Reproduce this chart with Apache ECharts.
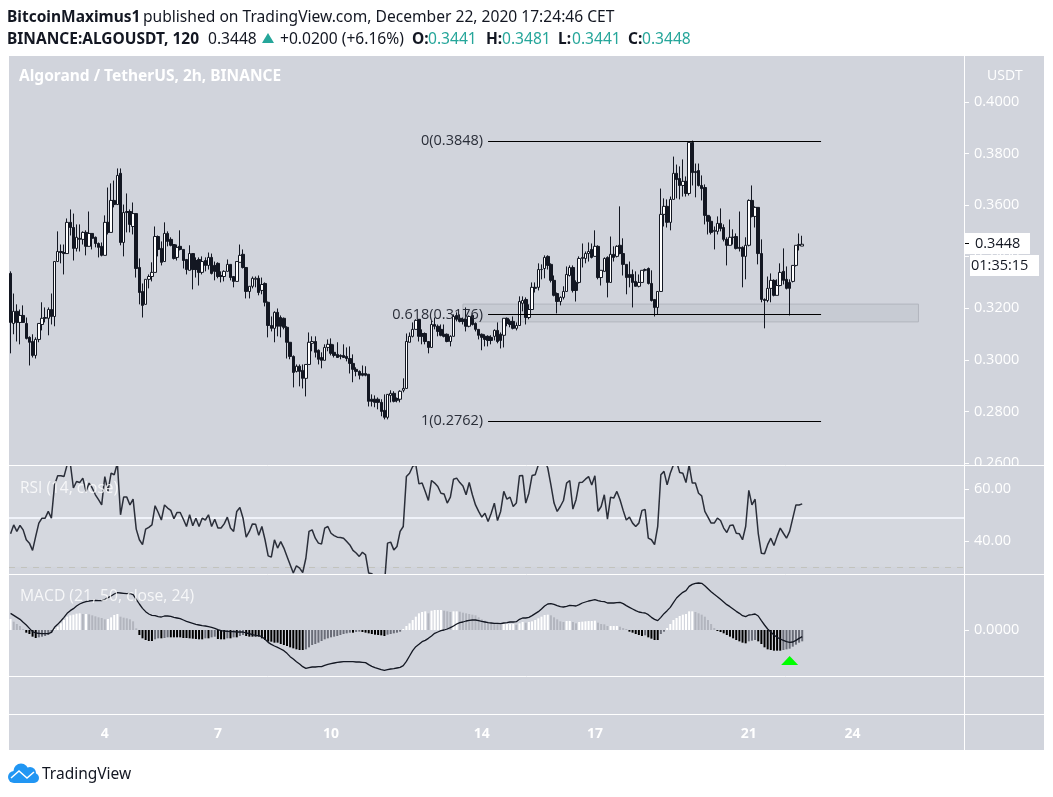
<!DOCTYPE html>
<html>
<head>
<meta charset="utf-8">
<title>ALGOUSDT</title>
<script src="https://cdn.jsdelivr.net/npm/echarts@6/dist/echarts.min.js"></script>
<style>
  html, body { margin: 0; background: #fff; }
  #chart { width: 1053px; height: 797px; }
</style>
</head>
<body>
<div id="chart"></div>
<script>
// prices and MACD values are written in units of 0.0001
const opens = [
  3335,3141,3188,3145,3172,3141,3087,3071,3017,3079,3137,3164,3161,3195,3168,3381,3420,3416,3412,3533,
  3513,3432,3471,3467,3494,3440,3490,3475,3451,3440,3405,3533,3494,3618,3602,3723,3455,3571,3575,3517,
  3567,3358,3265,3215,3312,3323,3339,3478,3432,3381,3490,3467,3447,3397,3440,3428,3389,3347,3412,3385,
  3389,3339,3385,3366,3397,3366,3374,3327,3323,3343,3370,3323,3304,3378,3409,3358,3265,3285,3312,3316,
  3269,3296,3223,3133,3122,3184,3164,3161,3126,3068,3013,2955,2975,2959,2928,2982,3064,3071,3037,3009,
  2998,3048,3060,3029,3021,3017,3017,3013,3005,2986,2963,2955,2947,2947,2944,2847,2847,2847,2835,2804,
  2777,2862,2870,2850,2847,2882,2889,3068,3091,3118,3157,3102,3102,3071,3048,3137,3130,3118,3099,3099,
  3071,3091,3172,3161,3157,3157,3130,3172,3141,3118,3099,3091,3091,3087,3091,3114,3099,3095,3161,3149,
  3149,3122,3133,3219,3234,3164,3195,3281,3281,3350,3354,3401,3370,3308,3257,3226,3242,3265,3327,3358,
  3300,3300,3393,3393,3412,3428,3401,3440,3319,3343,3397,3300,3409,3401,3444,3412,3370,3331,3331,3304,
  3285,3300,3347,3354,3296,3234,3203,3265,3564,3595,3533,3622,3723,3703,3676,3692,3645,3843,3730,3734,
  3676,3668,3560,3537,3498,3498,3529,3513,3467,3444,3475,3478,3436,3436,3401,3444,3618,3556,3591,3412,
  3234,3230,3277,3308,3250,3288,3343,3312,3300,3304,3366,3444,3441
];
const closes = [
  3145,3188,3145,3172,3145,3083,3068,3017,3079,3141,3161,3161,3195,3168,3381,3420,3416,3412,3533,3513,
  3432,3475,3467,3494,3440,3490,3471,3451,3436,3405,3533,3494,3618,3602,3715,3455,3571,3575,3525,3567,
  3354,3261,3211,3312,3323,3339,3478,3428,3378,3490,3459,3444,3393,3436,3428,3385,3350,3412,3350,3350,
  3339,3381,3366,3397,3335,3343,3323,3323,3343,3370,3319,3304,3381,3405,3358,3265,3285,3316,3316,3261,
  3292,3223,3133,3122,3184,3130,3130,3126,3068,3013,2951,2975,2955,2928,2982,3068,3071,3029,3002,2998,
  3048,3060,3025,3017,3009,3013,3009,3005,2986,2963,2955,2940,2940,2940,2839,2839,2835,2835,2800,2777,
  2866,2870,2839,2843,2878,2889,3071,3091,3118,3153,3091,3091,3071,3048,3137,3130,3110,3095,3091,3071,
  3091,3168,3157,3149,3149,3130,3168,3137,3118,3095,3087,3079,3075,3075,3114,3071,3075,3161,3141,3137,
  3122,3133,3226,3230,3164,3195,3281,3277,3350,3350,3397,3366,3308,3250,3226,3242,3265,3331,3358,3269,
  3269,3393,3397,3412,3420,3397,3440,3319,3347,3393,3300,3409,3397,3440,3412,3370,3319,3319,3300,3285,
  3300,3347,3350,3296,3230,3203,3265,3564,3595,3533,3622,3723,3699,3676,3692,3645,3843,3726,3726,3676,
  3664,3560,3537,3494,3502,3529,3509,3467,3444,3475,3475,3432,3432,3401,3444,3618,3556,3591,3412,3234,
  3230,3277,3308,3250,3288,3339,3308,3277,3277,3366,3444,3447,3448
];
const highs = [
  3343,3257,3215,3195,3211,3164,3091,3099,3087,3141,3223,3203,3203,3257,3381,3498,3447,3447,3548,3583,
  3567,3525,3525,3498,3502,3575,3490,3478,3455,3455,3560,3668,3684,3695,3742,3742,3602,3645,3583,3610,
  3567,3393,3296,3312,3331,3378,3517,3482,3459,3533,3498,3475,3447,3447,3502,3428,3389,3444,3412,3397,
  3397,3401,3397,3416,3412,3381,3378,3343,3347,3389,3370,3323,3381,3447,3428,3358,3285,3323,3323,3327,
  3319,3300,3226,3168,3188,3199,3172,3164,3130,3068,3017,2982,2982,2982,2982,3106,3091,3091,3040,3029,
  3060,3079,3083,3060,3068,3021,3060,3048,3052,3021,2971,2959,2978,2975,2944,2866,2862,2854,2847,2866,
  2866,2882,2878,2854,2882,2928,3102,3106,3145,3157,3157,3118,3106,3071,3153,3164,3137,3137,3137,3102,
  3095,3176,3184,3176,3164,3203,3172,3176,3145,3118,3102,3099,3095,3095,3118,3145,3106,3161,3164,3157,
  3168,3145,3246,3246,3242,3215,3300,3300,3374,3370,3405,3405,3374,3327,3261,3246,3285,3362,3366,3366,
  3308,3401,3451,3420,3455,3451,3502,3444,3347,3397,3401,3478,3440,3444,3595,3471,3370,3381,3350,3343,
  3331,3347,3354,3358,3347,3234,3265,3664,3626,3622,3633,3788,3757,3750,3777,3711,3843,3850,3761,3761,
  3715,3680,3560,3556,3517,3556,3587,3525,3475,3544,3506,3490,3575,3440,3475,3622,3676,3595,3591,3467,
  3238,3323,3335,3312,3312,3374,3432,3362,3312,3366,3444,3490,3481
];
const lows = [
  3025,3099,3071,3060,3145,3079,2978,3009,3005,3068,3114,3145,3095,3137,3130,3381,3374,3331,3412,3482,
  3385,3420,3420,3447,3405,3440,3428,3436,3397,3401,3405,3486,3494,3591,3602,3444,3401,3494,3494,3486,
  3319,3215,3164,3215,3277,3304,3339,3401,3366,3381,3440,3440,3389,3385,3424,3354,3331,3347,3273,3319,
  3288,3331,3343,3350,3331,3308,3316,3300,3304,3343,3308,3281,3304,3378,3354,3238,3238,3277,3281,3250,
  3254,3207,3087,3110,3068,3091,3087,3118,3005,3002,2893,2951,2897,2889,2858,2982,3033,3009,2982,2967,
  2998,3033,3017,3009,3009,3002,3009,2994,2947,2913,2936,2924,2936,2936,2819,2819,2816,2808,2781,2769,
  2769,2835,2835,2835,2835,2874,2889,3068,3087,3118,3071,3060,3060,3025,3048,3118,3091,3091,3087,3068,
  3052,3091,3149,3145,3137,3110,3126,3133,3110,3079,3037,3052,3052,3060,3075,3064,3044,3048,3130,3126,
  3118,3114,3133,3188,3137,3157,3195,3261,3269,3312,3316,3350,3300,3246,3180,3211,3234,3265,3323,3261,
  3226,3296,3358,3374,3381,3393,3401,3312,3288,3343,3242,3300,3381,3397,3409,3327,3254,3281,3203,3285,
  3281,3300,3343,3292,3226,3168,3176,3265,3517,3513,3502,3622,3626,3622,3633,3633,3637,3676,3630,3672,
  3618,3525,3486,3486,3428,3486,3498,3459,3366,3444,3447,3428,3420,3281,3312,3440,3552,3513,3370,3223,
  3122,3223,3223,3246,3250,3285,3292,3273,3172,3300,3362,3424,3441
];
const rsi = [
  42.7,46.1,43.6,45.9,44.2,40.4,39.1,36.3,41.7,46.8,48.7,48.7,51.3,48.7,61.5,65,65,64.7,69.2,69.9,
  60.3,62.8,62.4,64.1,59,62.2,60.3,57.7,55.8,53.8,64.7,59,66,65.4,69.9,50,56.8,56.8,53.8,56,
  44.5,40.4,38.5,44.5,45.2,46.1,53.5,50.9,48,53.8,52.6,51.7,48.5,50.9,50.9,48.3,45.5,50,45.8,48.7,
  45.5,48.7,48,50,45.5,48.3,44.9,44.9,46.5,49.1,44.9,43.6,51.3,52.8,48.7,41.4,43.6,46.5,46.4,42.1,
  45.5,40.4,34.2,33.7,40.4,37.2,39.7,37.2,34,30.8,27.6,30.4,29.5,27.8,33.3,43.6,44.2,41,39.1,38.8,
  44.9,45.5,42.9,42,41.4,41.3,41,39.7,38.4,36.3,35.3,34,35.6,34.6,27.6,27.3,26.3,25.2,23.7,23.1,
  39.1,39.5,36.5,37.8,43.6,45.5,64.7,66,68.6,69.2,61.9,62.2,59,55.5,63.2,62.2,60.9,58.3,58,54.5,
  56.8,63.7,64.1,62.4,61.1,57.7,62.4,57.7,53.8,51.3,49.1,50.6,47.4,50.6,54.5,47.8,51.3,59,56,56.8,
  53.2,54.5,65,65.1,54.5,58.3,65.1,65.4,69.2,71,71,68,61.5,54.5,51.3,53.2,55.5,62.2,63.2,52.2,
  55.8,62.4,62.5,63.7,64.7,61.5,65,51.3,53.2,57.7,48.3,56.8,56.4,59,55.8,51.7,48,49.1,46.8,45.5,
  46.8,51.7,52,41,40.4,38.5,45.5,65.4,66.7,61.5,66,69.2,70.5,66.3,66,62.4,69.2,62.2,62.2,58.3,
  57.3,51.3,49.1,46.8,46.8,48.7,47.8,44.9,43.2,45.9,46.1,42.9,42.7,40.4,45.5,59.4,53.8,56,42.9,35.2,
  35,38.5,41,38.2,41.7,44.9,42.9,41,43.6,48.7,53.8,53.8,54.2
];
const macdLine = [
  50,44,38,32,23,15,5,-5,-9,-10,-11,-11,-11,-7,8,17,27,38,50,58,
  64,72,78,82,85,87,88,89,88,88,91,97,102,108,112,111,110,109,110,106,
  92,78,65,55,48,44,43,40,39,42,42,41,38,36,34,30,26,23,20,17,
  15,13,12,10,8,5,1,-2,-3,-4,-5,-5,-6,-6,-6,-9,-11,-14,-16,-17,
  -20,-28,-37,-43,-48,-52,-57,-62,-70,-80,-87,-95,-102,-110,-115,-113,-111,-111,-110,-110,
  -106,-103,-101,-99,-97,-96,-95,-95,-95,-95,-96,-96,-97,-98,-104,-109,-113,-116,-119,-121,
  -119,-117,-116,-114,-112,-107,-94,-78,-62,-50,-43,-35,-31,-25,-18,-10,-6,-2,0,3,
  7,12,18,22,24,27,29,30,30,28,26,24,22,21,20,20,19,21,22,24,
  24,25,32,36,36,38,43,49,55,63,72,78,79,77,73,70,69,71,74,73,
  72,76,81,84,87,89,91,88,86,85,81,81,81,82,83,79,73,68,63,58,
  54,52,51,46,38,32,28,38,49,58,68,82,96,105,113,118,131,137,140,141,
  140,133,124,115,107,100,92,84,76,70,63,56,50,43,40,45,46,48,42,28,
  15,3,-6,-15,-22,-27,-31,-35,-37,-36,-31,-25,-20
];
const macdHist = [
  33,25,18,12,3,-8,-12,-20,-24,-22,-20,-18,-15,-8,3,10,20,30,40,44,
  46,49,50,48,48,47,44,41,38,36,32,33,38,45,48,40,37,35,32,26,
  5,-15,-25,-30,-33,-33,-28,-25,-25,-24,-22,-22,-22,-22,-22,-24,-24,-25,-26,-27,
  -28,-28,-25,-25,-22,-20,-27,-28,-28,-25,-25,-22,-22,-18,-15,-18,-20,-20,-20,-20,
  -25,-30,-35,-35,-38,-38,-42,-45,-48,-52,-55,-58,-60,-60,-58,-52,-45,-42,-38,-33,
  -28,-25,-22,-20,-18,-15,-12,-10,-8,-8,-6,-5,-6,-8,-10,-12,-14,-15,-16,-18,
  -14,-12,-10,-8,-5,3,12,20,30,40,50,54,56,50,58,60,60,60,58,56,
  54,56,56,55,52,50,48,46,44,38,32,28,25,22,20,18,16,18,18,18,
  18,16,20,24,22,24,26,30,35,40,45,46,44,38,32,26,24,27,27,24,
  20,24,25,26,27,27,28,22,18,17,12,12,12,12,10,6,3,-5,-8,-12,
  -15,-18,-16,-22,-26,-30,-30,-12,-5,6,18,30,36,42,46,48,56,56,54,50,
  46,40,30,18,6,-3,-6,-10,-15,-20,-25,-30,-34,-38,-40,-34,-32,-30,-34,-42,
  -52,-58,-60,-62,-62,-62,-60,-58,-56,-50,-44,-38,-34
];

const slotCount = 304;
const dayLabels = ['4', '7', '10', '14', '17', '21', '24'];
const daySlots = [30, 66, 102, 150, 186, 235, 268];
const priceTicks = [0.26, 0.28, 0.3, 0.32, 0.34, 0.36, 0.38, 0.4];
const rsiTicks = [40, 60];
const fibValues = [0.3848, 0.3176, 0.2762];
const fibTexts = ['0(0.3848)', '0.618(0.3176)', '1(0.2762)'];

const ink = '#131722';
const paper = '#d1d4dc';
const uiFont = '"Open Sans", sans-serif';
const headFont = '15.6px "Noto Sans"';
const headBold = 'bold 15.5px "Noto Sans"';

const categories = new Array(slotCount).fill('');
daySlots.forEach((s, i) => { categories[s] = dayLabels[i]; });

const candles = opens.map((o, i) => [o / 10000, closes[i] / 10000, lows[i] / 10000, highs[i] / 10000]);

// TradingView colours the histogram by direction against the previous bar
function histColor(params) {
    const v = macdHist[params.dataIndex];
    const prev = params.dataIndex > 0 ? macdHist[params.dataIndex - 1] : v;
    if (v >= 0) return v >= prev ? '#ffffff' : '#b2b5be';
    return v <= prev ? '#000000' : '#6a6d78';
}

function hiddenX(gridIndex) {
    return { type: 'category', gridIndex, data: categories, show: false };
}

function rightY(gridIndex, min, max, ticks, fmt) {
    return {
        type: 'value', gridIndex, position: 'right', min, max, scale: true,
        splitLine: { show: false },
        axisLine: { show: true, lineStyle: { color: '#fff' } },
        axisTick: { show: true, length: 5, customValues: ticks, lineStyle: { color: '#fff' } },
        axisLabel: { show: true, customValues: ticks, margin: 10, padding: [3, 0, 0, 0], color: '#fff', fontFamily: uiFont, fontSize: 14.5, formatter: fmt }
    };
}

function label(text, x, y, opt) {
    return {
        type: 'text', z: 60,
        style: Object.assign({ text, x, y, fill: ink, font: headFont, textVerticalAlign: 'middle' }, opt || {})
    };
}

function hLine(y) {
    return { type: 'line', z: 50, shape: { x1: 9, y1: y, x2: 1044, y2: y }, style: { stroke: '#fff', lineWidth: 1 } };
}

const fibLines = fibValues.map((v, i) => [
    { coord: [152, v], label: { formatter: fibTexts[i] } },
    { coord: [258, v] }
]);

const options = {
    animation: false,
    backgroundColor: '#fff',
    grid: [
        { left: 9, right: 89, top: 56, height: 409 },
        { left: 9, right: 89, top: 466, height: 108 },
        { left: 9, right: 89, top: 574.5, height: 101.5 },
        { left: 9, right: 89, top: 677, height: 37 }
    ],
    xAxis: [
        hiddenX(0), hiddenX(1), hiddenX(2),
        {
            type: 'category', gridIndex: 3, data: categories,
            axisLine: { lineStyle: { color: '#fff' } },
            axisTick: { length: 4, alignWithLabel: true, interval: (i, v) => v !== '', lineStyle: { color: '#fff' } },
            axisLabel: { interval: (i, v) => v !== '', margin: 13, color: '#fff', fontFamily: uiFont, fontSize: 14, fontWeight: 'bold' }
        }
    ],
    yAxis: [
        rightY(0, 0.25921, 0.4178, priceTicks, v => v.toFixed(4)),
        rightY(1, 27.23, 68.77, rsiTicks, v => v.toFixed(2)),
        rightY(2, -0.0138, 0.01665, [0], v => v.toFixed(4)),
        { type: 'value', gridIndex: 3, show: false }
    ],
    series: [
        {
            type: 'candlestick', xAxisIndex: 0, yAxisIndex: 0, data: candles, barWidth: 3,
            itemStyle: { color: '#ffffff', color0: ink, borderColor: ink, borderColor0: ink, borderWidth: 1 },
            markLine: {
                silent: true, symbol: 'none', animation: false,
                lineStyle: { color: '#000', width: 1, type: 'solid' },
                label: { position: 'start', distance: 5, color: '#2a2e39', fontFamily: uiFont, fontSize: 14.5 },
                data: fibLines
            },
            markArea: {
                silent: true,
                itemStyle: { color: 'rgba(120,123,134,0.1)', borderColor: '#b2b5be', borderWidth: 1 },
                data: [[{ coord: [144, 0.3216] }, { coord: [289, 0.3147] }]]
            }
        },
        {
            type: 'line', xAxisIndex: 1, yAxisIndex: 1, data: rsi, symbol: 'none', z: 5,
            lineStyle: { color: '#2a2e39', width: 1.5 },
            markArea: {
                silent: true,
                itemStyle: { color: 'rgba(255,255,255,0.1)' },
                data: [[{ coord: [0, 68.77], x: 9 }, { coord: [303, 30], x: 964 }]]
            },
            markLine: {
                silent: true, symbol: 'none', label: { show: false },
                data: [
                    { yAxis: 49, lineStyle: { color: '#f0f3fa', width: 2, type: 'solid' } },
                    { yAxis: 30, lineStyle: { color: '#c2c3bd', width: 1, type: [6, 6] } }
                ]
            }
        },
        {
            type: 'bar', xAxisIndex: 2, yAxisIndex: 2, data: macdHist.map(v => v / 10000), barWidth: 2,
            itemStyle: { color: histColor },
            markPoint: {
                silent: true, symbol: 'triangle', symbolSize: [17, 9], itemStyle: { color: '#00ff00' }, label: { show: false },
                data: [{ coord: [248, -0.00915] }]
            }
        },
        {
            type: 'line', xAxisIndex: 2, yAxisIndex: 2, data: macdLine.map(v => v / 10000), symbol: 'none', z: 5,
            lineStyle: { color: ink, width: 1.3 }
        }
    ],
    graphic: { elements: [
        { type: 'rect', z: -1, shape: { x: 9, y: 56, width: 1035, height: 694 }, style: { fill: paper } },
        // 0.2600 is cut by the pane border in the original
        { type: 'rect', z: 40, shape: { x: 970, y: 466, width: 70, height: 12 }, style: { fill: paper } },
        hLine(465.5), hLine(574.5), hLine(676.5), hLine(714.5),
        { type: 'line', z: 50, shape: { x1: 964.5, y1: 56, x2: 964.5, y2: 750 }, style: { stroke: '#fff', lineWidth: 1 } },

        label('BitcoinMaximus1', 7, 18, { font: headBold }),
        label('published on TradingView.com, December 22, 2020 17:24:46 CET', 143, 18),
        label('BINANCE:ALGOUSDT, 120', 7, 39.5, { font: headBold }),
        label('0.3448', 208, 39.5),
        { type: 'polygon', z: 60, shape: { points: [[268, 33], [274, 43], [262, 43]] }, style: { fill: '#26a69a' } },
        label('+0.0200 (+6.16%)', 280, 39.5),
        label('O:', 412, 39.5, { font: headBold }),
        label('0.3441', 428, 39.5, { fill: '#26a69a' }),
        label('H:', 486, 39.5, { font: headBold }),
        label('0.3481', 502, 39.5, { fill: '#26a69a' }),
        label('L:', 558, 39.5, { font: headBold }),
        label('0.3441', 572, 39.5, { fill: '#26a69a' }),
        label('C:', 628, 39.5, { font: headBold }),
        label('0.3448', 642, 39.5, { fill: '#26a69a' }),

        label('Algorand / TetherUS, 2h, BINANCE', 19, 77, { fill: '#fff', font: headBold }),
        label('USDT', 987, 76.5, { fill: '#fff', font: '14px "Open Sans"' }),
        label('RSI (14, close)', 20, 488.5, { fill: 'rgba(255,255,255,0.8)', font: '15.5px "Open Sans"' }),
        label('MACD (21, 50, close, 24)', 20, 596.5, { fill: 'rgba(255,255,255,0.8)', font: '15.7px "Open Sans"' }),

        { type: 'rect', z: 60, shape: { x: 965, y: 233, width: 65, height: 21 }, style: { fill: '#fff' } },
        { type: 'line', z: 61, shape: { x1: 965, y1: 243.5, x2: 969, y2: 243.5 }, style: { stroke: '#000', lineWidth: 1 } },
        label('0.3448', 975, 244, { font: '14.5px "Open Sans"' }),
        { type: 'rect', z: 60, shape: { x: 970, y: 255, width: 69, height: 21 }, style: { fill: '#fff' } },
        label('01:35:15', 971, 266, { font: '14.5px "Open Sans"' }),

        { type: 'circle', z: 60, shape: { cx: 14, cy: 777, r: 6 }, style: { fill: '#2196f3' } },
        { type: 'circle', z: 60, shape: { cx: 21, cy: 771, r: 7.5 }, style: { fill: '#2196f3' } },
        { type: 'circle', z: 60, shape: { cx: 30, cy: 773, r: 6 }, style: { fill: '#2196f3' } },
        { type: 'circle', z: 60, shape: { cx: 34, cy: 778, r: 5 }, style: { fill: '#2196f3' } },
        { type: 'rect', z: 60, shape: { x: 14, y: 774, width: 20, height: 9 }, style: { fill: '#2196f3' } },
        { type: 'polyline', z: 61, shape: { points: [[11, 778], [19, 771], [27, 778], [34, 772]] }, style: { stroke: '#fff', fill: 'none', lineWidth: 1.5 } },
        label('TradingView', 42, 774.5, { font: '15.5px "Noto Sans"' })
    ] }
};

const E = echarts.init(document.getElementById('chart'));
window.onresize = function () {
    E.resize();
};
E.setOption(options);
</script>
</body>
</html>
